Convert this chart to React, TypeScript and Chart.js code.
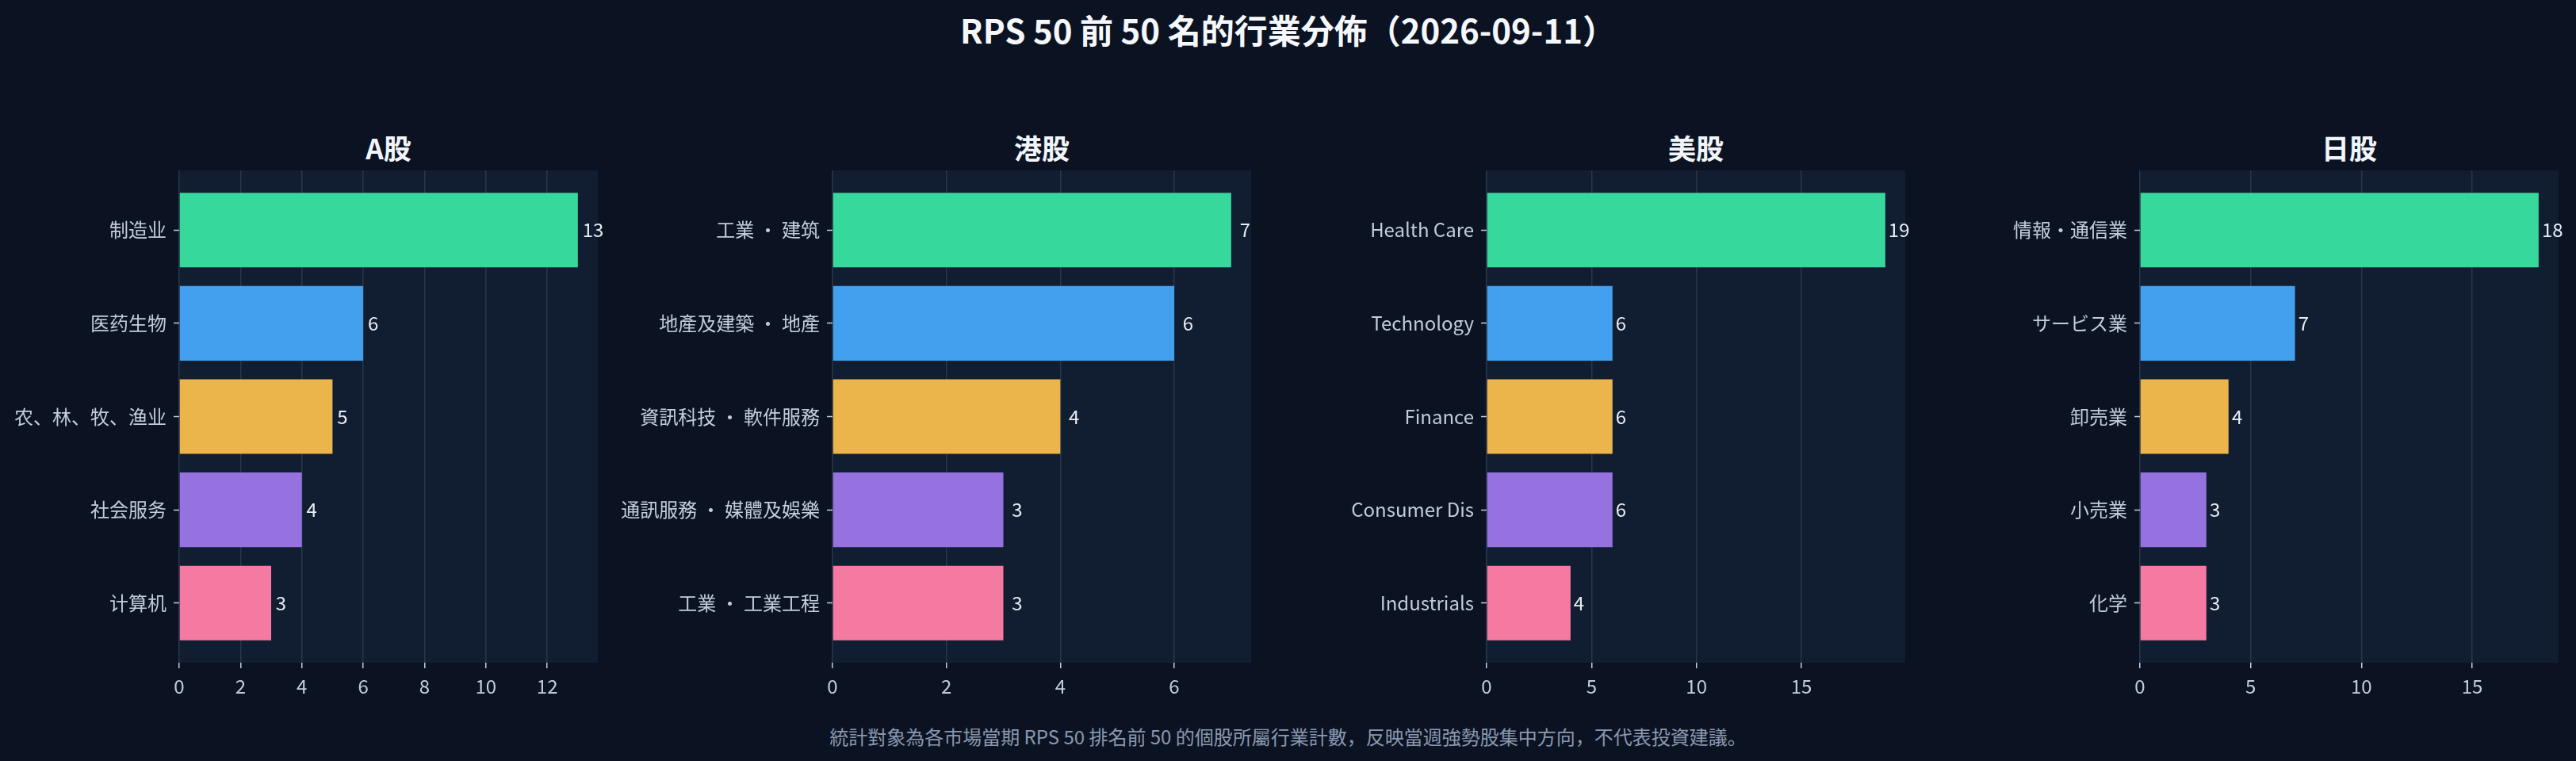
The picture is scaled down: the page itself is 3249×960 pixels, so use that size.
import React, { useRef, useEffect } from 'react';
import { Chart, registerables } from 'chart.js';

Chart.register(...registerables);

const FONT = '"Noto Sans CJK JP", "Noto Sans CJK SC", "Noto Sans", sans-serif';

// Panel data
const aShareLabels = ['制造业', '医药生物', '农、林、牧、渔业', '社会服务', '计算机'];
const aShareValues = [13, 6, 5, 4, 3];

const hkLabels = ['工業 ・ 建筑', '地產及建築 ・ 地產', '資訊科技 ・ 軟件服務', '通訊服務 ・ 媒體及娛樂', '工業 ・ 工業工程'];
const hkValues = [7, 6, 4, 3, 3];

const usLabels = ['Health Care', 'Technology', 'Finance', 'Consumer Dis', 'Industrials'];
const usValues = [19, 6, 6, 6, 4];

const jpLabels = ['情報・通信業', 'サービス業', '卸売業', '小売業', '化学'];
const jpValues = [18, 7, 4, 3, 3];

const panelTitles = ['A股', '港股', '美股', '日股'];
const tickSteps = [2, 2, 5, 5];
const barColors = ['#37d89b', '#43a0ee', '#ebb54c', '#9672e0', '#f47aa1'];

const BG = '#0b1323';
const PLOT_BG = '#111e31';
const GRID = '#28364d';
const TICK_TEXT = '#c3ccd8';
const VALUE_TEXT = '#e8edf3';

const PLOT_TOP = 215;
const PLOT_BOTTOM = 836;
const PLOT_WIDTH = 528;
const AXIS_W = 300;
const RIGHT_PAD = 40;
const TOP_PAD = 15;
const XAXIS_H = 60;
const plotLefts = [226, 1050, 1875, 2699];

const plotBackground = {
  id: 'plotBackground',
  beforeDraw(chart: Chart) {
    const { ctx, chartArea } = chart;
    ctx.save();
    ctx.fillStyle = PLOT_BG;
    ctx.fillRect(chartArea.left, chartArea.top, chartArea.right - chartArea.left, chartArea.bottom - chartArea.top);
    ctx.restore();
  },
};

const valueLabels = {
  id: 'valueLabels',
  afterDatasetsDraw(chart: Chart) {
    const { ctx } = chart;
    const xScale = chart.scales.x;
    const meta = chart.getDatasetMeta(0);
    const data = chart.data.datasets[0].data as { x: number; y: number }[];
    ctx.save();
    ctx.font = `24px ${FONT}`;
    ctx.fillStyle = VALUE_TEXT;
    ctx.textAlign = 'left';
    ctx.textBaseline = 'middle';
    meta.data.forEach((bar: any, i: number) => {
      const v = data[i].x;
      ctx.fillText(String(v), xScale.getPixelForValue(v + 0.15), bar.y);
    });
    ctx.restore();
  },
};

interface PanelProps {
  labels: string[];
  values: number[];
  step: number;
  left: number;
}

const Panel: React.FC<PanelProps> = ({ labels, values, step, left }) => {
  const canvasRef = useRef<HTMLCanvasElement>(null);

  useEffect(() => {
    if (!canvasRef.current) return;
    const xMax = Math.max(...values) * 1.05;
    const chart = new Chart(canvasRef.current, {
      type: 'bar',
      data: {
        datasets: [
          {
            data: values.map((v, i) => ({ x: v, y: i })),
            backgroundColor: barColors,
            borderWidth: 0,
            categoryPercentage: 1,
            barPercentage: 0.8,
          },
        ],
      },
      options: {
        indexAxis: 'y',
        responsive: true,
        maintainAspectRatio: false,
        animation: false,
        layout: { padding: { top: TOP_PAD, right: RIGHT_PAD, bottom: 0, left: 0 } },
        plugins: {
          legend: { display: false },
          tooltip: { enabled: false },
        },
        scales: {
          x: {
            type: 'linear',
            min: 0,
            max: xMax,
            afterBuildTicks: (scale: any) => {
              const ticks = [];
              for (let v = 0; v <= xMax; v += step) ticks.push({ value: v });
              scale.ticks = ticks;
            },
            afterFit: (scale: any) => {
              scale.height = XAXIS_H;
              scale.paddingLeft = 0;
              scale.paddingRight = 0;
            },
            ticks: {
              color: TICK_TEXT,
              font: { family: FONT, size: 24 },
              padding: 8,
              maxRotation: 0,
            },
            grid: {
              color: GRID,
              lineWidth: 1.5,
              tickLength: 7,
              tickColor: TICK_TEXT,
              tickWidth: 1.5,
            },
            border: { display: false },
          },
          y: {
            type: 'linear',
            reverse: true,
            offset: false,
            min: -0.64,
            max: 4.64,
            afterBuildTicks: (scale: any) => {
              scale.ticks = labels.map((_, i) => ({ value: i }));
            },
            afterFit: (scale: any) => {
              scale.width = AXIS_W;
              scale.paddingTop = 0;
              scale.paddingBottom = 0;
            },
            ticks: {
              color: TICK_TEXT,
              font: { family: FONT, size: 24 },
              padding: 9,
              callback: (v: any) => labels[v as number] ?? '',
            },
            grid: {
              offset: false,
              drawOnChartArea: false,
              drawTicks: true,
              tickLength: 7,
              tickColor: TICK_TEXT,
              tickWidth: 1.5,
            },
            border: { display: false },
          },
        },
      },
      plugins: [plotBackground, valueLabels],
    });
    return () => chart.destroy();
  }, [labels, values, step]);

  return (
    <div
      style={{
        position: 'absolute',
        left: left - AXIS_W,
        top: PLOT_TOP - TOP_PAD,
        width: AXIS_W + PLOT_WIDTH + RIGHT_PAD,
        height: TOP_PAD + (PLOT_BOTTOM - PLOT_TOP) + XAXIS_H,
      }}
    >
      <canvas ref={canvasRef}></canvas>
    </div>
  );
};

const App: React.FC = () => {
  useEffect(() => {
    document.body.style.margin = '0';
    document.body.style.background = BG;
  }, []);

  const panels = [
    { labels: aShareLabels, values: aShareValues },
    { labels: hkLabels, values: hkValues },
    { labels: usLabels, values: usValues },
    { labels: jpLabels, values: jpValues },
  ];

  return (
    <div style={{ position: 'relative', width: 3249, height: 960, background: BG, overflow: 'hidden', fontFamily: FONT }}>
      <div
        style={{
          position: 'absolute',
          top: 16,
          left: 0,
          width: 3249,
          textAlign: 'center',
          fontSize: 42,
          lineHeight: '42px',
          fontWeight: 'bold',
          color: '#f5f7fa',
        }}
      >
        RPS 50 前 50 名的行業分佈（2026-09-11）
      </div>
      {panels.map((p, i) => (
        <React.Fragment key={panelTitles[i]}>
          <div
            style={{
              position: 'absolute',
              top: 168,
              left: plotLefts[i],
              width: PLOT_WIDTH,
              textAlign: 'center',
              fontSize: 35,
              lineHeight: '35px',
              fontWeight: 'bold',
              color: '#f1f5f9',
            }}
          >
            {panelTitles[i]}
          </div>
          <Panel labels={p.labels} values={p.values} step={tickSteps[i]} left={plotLefts[i]} />
        </React.Fragment>
      ))}
      <div
        style={{
          position: 'absolute',
          top: 917,
          left: 0,
          width: 3249,
          textAlign: 'center',
          fontSize: 24,
          lineHeight: '24px',
          color: '#8a98ae',
        }}
      >
        統計對象為各市場當期 RPS 50 排名前 50 的個股所屬行業計數，反映當週強勢股集中方向，不代表投資建議。
      </div>
    </div>
  );
};

export default App;
